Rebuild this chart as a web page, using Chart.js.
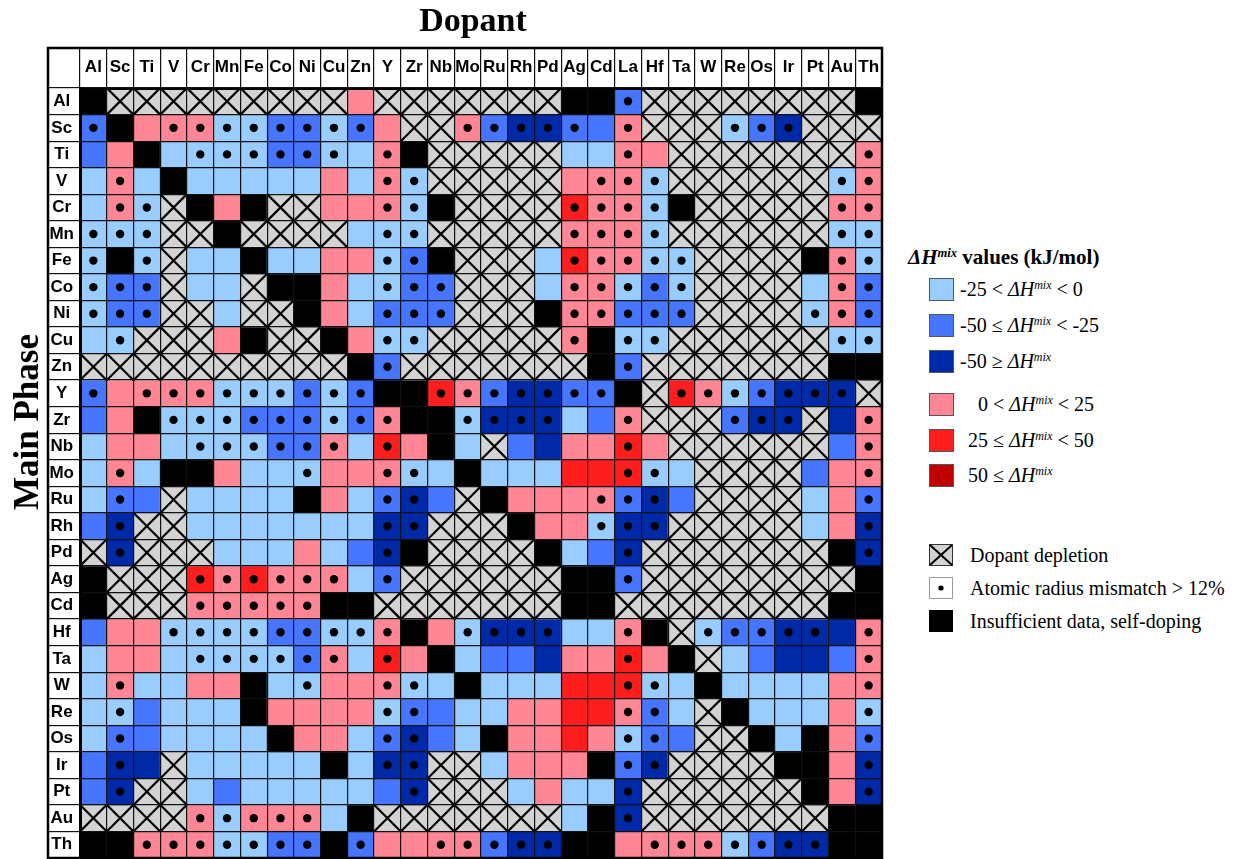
<!DOCTYPE html>
<html lang="en">
<head>
  <meta charset="UTF-8" />
  <title>Dopant vs main phase mixing enthalpy</title>
  <script src="https://cdn.jsdelivr.net/npm/chart.js"></script>
  <style>
    html, body { margin: 0; padding: 0; background: #fff; }
    body {
      width: 1250px; height: 859px; position: relative; overflow: hidden;
      font-family: 'Liberation Serif', 'Times New Roman', serif; color: #000;
    }
    #chart-container { position: absolute; left: 0; top: 0; width: 886px; height: 859px; }
    #title {
      position: absolute; left: 323px; top: 0; width: 300px; line-height: 40px;
      text-align: center; font-weight: bold; font-size: 34px;
    }
    #ylabel {
      position: absolute; left: -123px; top: 402px; width: 300px; height: 40px; line-height: 40px;
      text-align: center; font-weight: bold; font-size: 35px; transform: rotate(-90deg);
    }
    .lrow { position: absolute; left: 929px; height: 26px; display: flex; align-items: center; white-space: nowrap; font-size: 20px; }
    .ltitle { position: absolute; left: 908px; top: 244px; height: 26px; line-height: 26px; font-size: 21px; font-weight: bold; white-space: nowrap; }
    .sw { width: 25px; height: 23px; box-sizing: border-box; border: 1px solid #555; flex: none; }
    .sup { font-size: 0.6em; position: relative; top: -0.55em; font-style: italic; }
  </style>
</head>
<body>
  <div id="chart-container">
    <canvas id="heatChart"></canvas>
  </div>
  <div id="title">Dopant</div>
  <div id="ylabel">Main Phase</div>
  <div id="legend"></div>

  <script>
    const dopants = ['Al', 'Sc', 'Ti', 'V', 'Cr', 'Mn', 'Fe', 'Co', 'Ni', 'Cu', 'Zn', 'Y', 'Zr', 'Nb', 'Mo',
      'Ru', 'Rh', 'Pd', 'Ag', 'Cd', 'La', 'Hf', 'Ta', 'W', 'Re', 'Os', 'Ir', 'Pt', 'Au', 'Th'];
    const phases = ['Al', 'Sc', 'Ti', 'V', 'Cr', 'Mn', 'Fe', 'Co', 'Ni', 'Cu', 'Zn', 'Y', 'Zr', 'Nb', 'Mo',
      'Ru', 'Rh', 'Pd', 'Ag', 'Cd', 'Hf', 'Ta', 'W', 'Re', 'Os', 'Ir', 'Pt', 'Au', 'Th'];

    // one string per main phase, one letter per dopant
    // l/b/d = light/medium/dark blue, p/r = pink/red, x = dopant depletion, k = black
    // upper case = atomic radius mismatch > 12% (dot)
    const cellCodes = [
      'kxxxxxxxxxpxxxxxxxkkBxxxxxxxxk',
      'BkpPPLLBBLBpxxPBDDBbPxxxLBDxxx',
      'bpklLLLBBLlPkxxxxxllPpxxxxxxxP',
      'lPlklllllplPLxxxxxpPPLxxxxxxLP',
      'lPLxkpkxxppPLkxxxxRPPLkxxxxxPP',
      'LLLxxkxxxxlLLxxxxxPPPLxxxxxxLL',
      'LkLxllkllppLBkxxxlRPPLLxxxxkPL',
      'LBBxllxkkplLBBxxxlPPLBLxxxxlPB',
      'LBBxxlxxkplBBBxxxkPPBBBxxxxLPB',
      'lLxxxpkxxkpLLxxxxxPkLLxxxxxxLL',
      'xxxxxxxxxxkBxxxxxxxkBxxxxxxxkk',
      'BpPPPLLLBLBkkRPBDDBBkxRPLBDDDx',
      'bpkLLLBBBLBPkkLDDDlbPxxxBDDxdP',
      'lpplLLLBBPlRpklxbdppRpxxxxxxbP',
      'lPlkkpllLppPLlklllrrRLlxxxxbpP',
      'lBbxllllkplBDbxkpppPBDbxxxxlpB',
      'bDxxlllllllDDxxxkppLDDxxxxxlpD',
      'xDxxxlllplbDkxxxxklbDxxxxxxxkD',
      'kxxxRPRPPPlBxxxxxxkkBxxxxxxxxk',
      'kxxxPPPPPkkxxxxxxxkkxxxxxxxxkk',
      'bppLLLLBBLLPkpLDDDllPkxLBBDDdP',
      'lpplLLLLBPlRpklbbdppRpkxlbddbP',
      'lPllppklLppPLlklllrrRLlkllllpP',
      'lLblllkppppLBbllpprrPBlxklllpL',
      'lBbllllkpplBDblkpprpLBbxxklkpB',
      'bDdxlllllklDDxxlpppkBDxxxxkkpD',
      'bDxxlblllllbDxxxlpllDxxxxxxkpD',
      'xxxxPLPPPlkxxxxxxxlkDxxxxxxxkk',
      'kkPPPLLBBkBppPPBDDkkpPPPLBDDkk'
    ];

    const fillColors = {
      l: '#99CCFF', b: '#4676FF', d: '#0029A8', p: '#FF8795', r: '#FF1E1E', q: '#C00000',
      x: '#D3D3D3', k: '#000000'
    };

    const legendBands = [
      { code: 'l', text: '-25 &lt; <i>ΔH</i><span class="sup">mix</span> &lt; 0', y: 289, tx: 960 },
      { code: 'b', text: '-50 ≤ <i>ΔH</i><span class="sup">mix</span> &lt; -25', y: 325, tx: 960 },
      { code: 'd', text: '-50 ≥ <i>ΔH</i><span class="sup">mix</span>', y: 361, tx: 960 },
      { code: 'p', text: '0 &lt; <i>ΔH</i><span class="sup">mix</span> &lt; 25', y: 404, tx: 978 },
      { code: 'r', text: '25 ≤ <i>ΔH</i><span class="sup">mix</span> &lt; 50', y: 440, tx: 968 },
      { code: 'q', text: '50 ≤ <i>ΔH</i><span class="sup">mix</span>', y: 475, tx: 968 }
    ];
    const legendMarks = [
      { kind: 'cross', text: 'Dopant depletion', y: 555 },
      { kind: 'dot', text: 'Atomic radius mismatch &gt; 12%', y: 588 },
      { kind: 'black', text: 'Insufficient data, self-doping', y: 621 }
    ];

    const labelFont = "'Liberation Sans Narrow', 'Arial Narrow', 'Liberation Sans', sans-serif";

    // cells: one floating-bar dataset per main phase row
    const barSets = phases.map((ph, r) => ({
      type: 'bar',
      label: ph,
      xAxisID: 'x',
      yAxisID: 'v',
      data: dopants.map(() => [r - 0.5, r + 0.5]),
      backgroundColor: cellCodes[r].split('').map(c => fillColors[c.toLowerCase()]),
      borderWidth: 0,
      grouped: false,
      barPercentage: 1,
      categoryPercentage: 1,
      order: 3
    }));

    const dotPts = [];
    const crossPts = [];
    cellCodes.forEach((row, r) => {
      row.split('').forEach((c, i) => {
        if (c === 'x') crossPts.push({ x: dopants[i], y: phases[r] });
        else if (c !== c.toLowerCase()) dotPts.push({ x: dopants[i], y: phases[r] });
      });
    });

    function crossRadius(ctx) {
      const a = ctx.chart.chartArea;
      if (!a) return 18;
      return (a.right - a.left) / dopants.length / 2 * Math.SQRT2;
    }

    const framePlugin = {
      id: 'frame',
      afterDraw(chart) {
        const { ctx, chartArea: a, scales } = chart;
        const left = a.left - scales.y.width;
        const top = a.top - scales.x.height;
        ctx.save();
        ctx.strokeStyle = '#000';
        ctx.lineWidth = 2.5;
        ctx.strokeRect(left, top, a.right - left, a.bottom - top);
        ctx.restore();
      }
    };

    const ctx = document.getElementById('heatChart').getContext('2d');
    const chart = new Chart(ctx, {
      type: 'bar',
      data: {
        labels: dopants,
        datasets: [
          ...barSets,
          {
            type: 'scatter', label: 'Dopant depletion', data: crossPts,
            xAxisID: 'x', yAxisID: 'y',
            pointStyle: 'crossRot', pointRadius: crossRadius, pointHoverRadius: crossRadius,
            borderColor: '#000', borderWidth: 2.2, backgroundColor: '#000', order: 2
          },
          {
            type: 'scatter', label: 'Atomic radius mismatch > 12%', data: dotPts,
            xAxisID: 'x', yAxisID: 'y',
            pointStyle: 'circle', pointRadius: 4.2, borderWidth: 0,
            backgroundColor: '#000', order: 1
          }
        ]
      },
      options: {
        responsive: true,
        maintainAspectRatio: false,
        animation: false,
        events: [],
        layout: { autoPadding: false, padding: { left: 48, top: 48, right: 4, bottom: 1 } },
        plugins: {
          legend: { display: false },
          title: { display: false },
          tooltip: { enabled: false }
        },
        scales: {
          x: {
            type: 'category',
            labels: dopants,
            position: 'top',
            offset: true,
            grid: { offset: true, color: '#111', lineWidth: 1.2, tickLength: 40, z: 1 },
            border: { display: true, color: '#000', width: 3, z: 1 },
            ticks: {
              autoSkip: false, maxRotation: 0, minRotation: 0, padding: -30, color: '#000',
              font: { family: labelFont, size: 17, weight: 'bold' }
            },
            afterFit(scale) {
              scale.height = 40;
              scale.paddingLeft = 0;
              scale.paddingRight = 0;
            }
          },
          y: {
            type: 'category',
            labels: phases,
            position: 'left',
            offset: true,
            grid: { offset: true, color: '#111', lineWidth: 1.2, tickLength: 32, z: 1 },
            border: { display: true, color: '#000', width: 3, z: 1 },
            ticks: {
              autoSkip: false, crossAlign: 'center', padding: -26, color: '#000',
              font: { family: labelFont, size: 17, weight: 'bold' }
            },
            afterFit(scale) {
              scale.width = 32;
              scale.paddingTop = 0;
              scale.paddingBottom = 0;
            }
          },
          v: {
            type: 'linear',
            axis: 'y',
            display: false,
            min: -0.5,
            max: 28.5,
            reverse: true
          }
        }
      },
      plugins: [framePlugin]
    });

    // legend on the right
    const legend = document.getElementById('legend');
    let html = '<div class="ltitle"><i>ΔH</i><span class="sup">mix</span> values (kJ/mol)</div>';
    legendBands.forEach(b => {
      html += '<div class="lrow" style="top:' + (b.y - 13) + 'px">' +
        '<span class="sw" style="background:' + fillColors[b.code] + '"></span>' +
        '<span style="margin-left:' + (b.tx - 954) + 'px">' + b.text + '</span></div>';
    });
    legendMarks.forEach(m => {
      let sw;
      if (m.kind === 'cross') {
        sw = '<svg width="24" height="22" style="flex:none"><rect x="0.5" y="0.5" width="23" height="21" fill="#D3D3D3" stroke="#333"/>' +
          '<line x1="1" y1="1" x2="23" y2="21" stroke="#000" stroke-width="2"/><line x1="23" y1="1" x2="1" y2="21" stroke="#000" stroke-width="2"/></svg>';
      } else if (m.kind === 'dot') {
        sw = '<svg width="24" height="22" style="flex:none"><rect x="0.5" y="0.5" width="23" height="21" fill="#fff" stroke="#999"/>' +
          '<circle cx="12" cy="11" r="2.6" fill="#000"/></svg>';
      } else {
        sw = '<svg width="24" height="22" style="flex:none"><rect x="0" y="0" width="24" height="22" fill="#000"/></svg>';
      }
      html += '<div class="lrow" style="top:' + (m.y - 13) + 'px">' + sw +
        '<span style="margin-left:17px">' + m.text + '</span></div>';
    });
    legend.innerHTML = html;
  </script>
</body>
</html>
